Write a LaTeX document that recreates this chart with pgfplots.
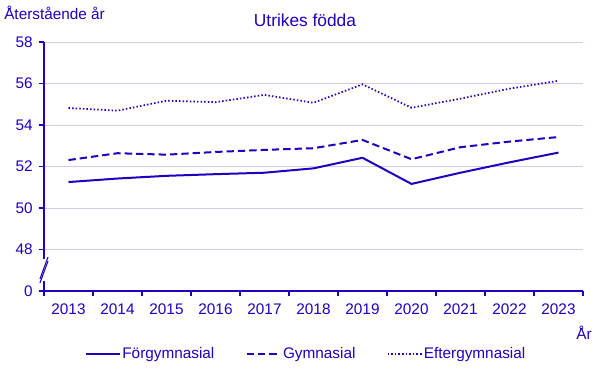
\documentclass[border=0pt]{standalone}
\usepackage{pgfplots}
\pgfplotsset{compat=1.18}
\usepackage{fontspec}
\setmainfont{Liberation Sans}
\definecolor{mainblue}{RGB}{30,0,190}
\definecolor{gridc}{RGB}{204,204,238}
\begin{document}
\begin{tikzpicture}
\begin{axis}[
  scale only axis,
  width=404.25pt, height=186.75pt,
  xmin=-0.5, xmax=10.5, ymin=46, ymax=58,
  clip=false,
  axis lines*=left,
  axis line style={mainblue, line width=0.9pt},
  xtick={-0.5,0.5,...,10.5},
  xticklabels={2013,2014,2015,2016,2017,2018,2019,2020,2021,2022,2023},
  x tick label as interval=true,
  ytick={46,48,50,52,54,56,58},
  yticklabels={0,48,50,52,54,56,58},
  tick align=outside,
  major tick length=4pt,
  tick style={mainblue, line width=0.8pt},
  ymajorgrids=true,
  grid style={gridc, line width=0.7pt},
  ticklabel style={font=\fontsize{11.5pt}{13pt}\selectfont, text=mainblue},
  /pgf/number format/assume math mode=true,
  xticklabel style={yshift=-2pt},
  yticklabel style={xshift=-1pt},
  legend columns=3,
  legend image code/.code={\draw[#1] (0pt,0pt) -- (25.5pt,0pt);},
  legend style={at={(0.487,-0.253)}, anchor=center, draw=none, fill=none,
    font=\fontsize{11.5pt}{13pt}\selectfont, text=mainblue,
    /tikz/every even column/.append style={column sep=21.5pt},
    /tikz/every odd column/.append style={column sep=-1pt}},
  legend cell align=left,
]
\addplot[mainblue, line width=1.5pt] coordinates {
(0,51.25) (1,51.42) (2,51.55) (3,51.63) (4,51.70) (5,51.91) (6,52.42) (7,51.16) (8,51.70) (9,52.20) (10,52.67)};
\addlegendentry{Förgymnasial}
\addplot[mainblue, line width=1.5pt, dash pattern=on 5.5pt off 3pt] coordinates {
(0,52.31) (1,52.64) (2,52.57) (3,52.70) (4,52.80) (5,52.88) (6,53.28) (7,52.35) (8,52.93) (9,53.20) (10,53.42)};
\addlegendentry{Gymnasial}
\addplot[mainblue, line width=1.3pt, dash pattern=on 1.1pt off 1.6pt] coordinates {
(0,54.82) (1,54.69) (2,55.17) (3,55.10) (4,55.45) (5,55.07) (6,55.96) (7,54.83) (8,55.27) (9,55.75) (10,56.13)};
\addlegendentry{Eftergymnasial}
% axis break marker
\fill[white] (axis cs:-0.56,46.5) rectangle (axis cs:-0.44,47.55);
\draw[mainblue, line width=0.8pt] (axis cs:-0.582,46.39) -- (axis cs:-0.418,47.446);
\draw[mainblue, line width=0.8pt] (axis cs:-0.582,46.583) -- (axis cs:-0.418,47.639);
\node[anchor=center, text=mainblue, font=\fontsize{13pt}{15pt}\selectfont] at (rel axis cs:0.4842,1.088) {Utrikes födda};
\node[anchor=west, inner sep=0pt, text=mainblue, font=\fontsize{11.5pt}{13pt}\selectfont] at (rel axis cs:-0.0742,1.1165) {Återstående år};
\node[anchor=east, inner sep=0pt, text=mainblue, font=\fontsize{11.5pt}{13pt}\selectfont] at (rel axis cs:1.0167,-0.169) {År};
\coordinate (bbl) at (axis cs:-1.398,41.807);
\coordinate (btr) at (axis cs:10.949,60.024);
\end{axis}
\useasboundingbox (bbl) rectangle (btr);
\end{tikzpicture}
\end{document}
